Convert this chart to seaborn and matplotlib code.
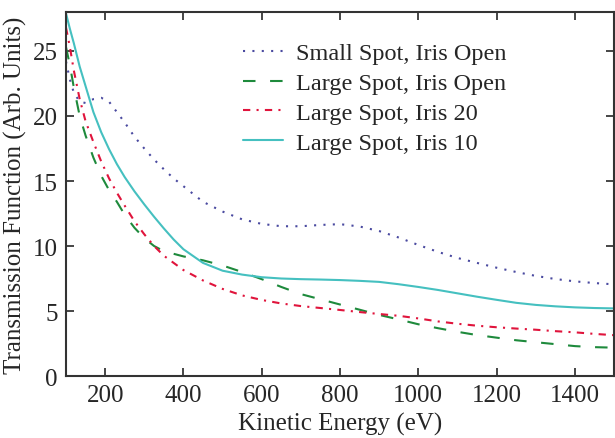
import numpy as np
import pandas as pd
import matplotlib
matplotlib.use("Agg")
import matplotlib.pyplot as plt
import seaborn as sns

# Kinetic energy grid (eV)
energy = [100, 110, 120, 135, 150, 170, 190, 210, 230, 250, 275, 300, 325, 350,
          375, 400, 450, 500, 550, 600, 650, 700, 750, 800, 850, 900, 950, 1000,
          1050, 1100, 1150, 1200, 1250, 1300, 1350, 1400, 1450, 1500]

small_open = [24.2, 22.8, 21.8, 21.1, 21.0, 21.3, 21.4, 21.1, 20.3, 19.5, 18.4, 17.5,
              16.65, 15.9, 15.2, 14.6, 13.4, 12.65, 12.05, 11.7, 11.52, 11.52, 11.62,
              11.68, 11.5, 11.15, 10.65, 10.08, 9.55, 9.08, 8.7, 8.33, 8.0, 7.7, 7.46,
              7.28, 7.15, 7.05]

large_open = [25.3, 23.9, 22.2, 20.0, 18.5, 16.8, 15.4, 14.3, 13.4, 12.4, 11.4, 10.6,
              10.0, 9.6, 9.4, 9.2, 8.9, 8.5, 8.0, 7.45, 6.85, 6.3, 5.9, 5.5, 5.1, 4.7,
              4.35, 3.98, 3.68, 3.4, 3.15, 2.95, 2.75, 2.6, 2.45, 2.3, 2.22, 2.18]

large_iris20 = [26.8, 25.3, 23.5, 21.3, 19.6, 18.0, 16.5, 15.2, 14.1, 13.1, 11.9, 10.9,
                10.0, 9.25, 8.7, 8.15, 7.35, 6.7, 6.2, 5.85, 5.58, 5.38, 5.23, 5.08,
                4.92, 4.77, 4.63, 4.43, 4.2, 4.02, 3.87, 3.75, 3.65, 3.56, 3.45, 3.36,
                3.24, 3.14]

large_iris10 = [27.9, 26.7, 25.6, 23.8, 22.3, 20.3, 18.75, 17.45, 16.3, 15.3, 14.2,
                13.2, 12.25, 11.35, 10.5, 9.75, 8.7, 8.1, 7.8, 7.6, 7.5, 7.45, 7.42, 7.38,
                7.32, 7.24, 7.06, 6.85, 6.62, 6.36, 6.1, 5.86, 5.63, 5.47, 5.36, 5.28,
                5.23, 5.2]

labels = ["Small Spot, Iris Open", "Large Spot, Iris Open",
          "Large Spot, Iris 20", "Large Spot, Iris 10"]
colors = ["#4a4aa0", "#1e8a3c", "#e0143c", "#45c0c0"]
dash_patterns = [(1, 3.5), (6, 7), (3.5, 3, 1, 3), ""]

df = pd.concat([
    pd.DataFrame({"Kinetic Energy": energy, "Transmission": vals, "series": name})
    for name, vals in zip(labels, [small_open, large_open, large_iris20, large_iris10])
], ignore_index=True)

sns.set_style("ticks")
plt.rcParams["font.family"] = ["Liberation Serif", "DejaVu Serif"]

fig = plt.figure(figsize=(6.15, 4.39), dpi=100)
ax = fig.add_axes([0.1073, 0.1412, 0.8912, 0.8292])

sns.lineplot(data=df, x="Kinetic Energy", y="Transmission", hue="series",
             style="series", hue_order=labels, style_order=labels,
             palette=dict(zip(labels, colors)),
             dashes=dict(zip(labels, dash_patterns)),
             linewidth=1.5, ax=ax, legend=True, sort=False)

ax.set_xlim(100, 1500)
ax.set_ylim(0, 28)
ax.set_xticks([200, 400, 600, 800, 1000, 1200, 1400])
ax.set_yticks([0, 5, 10, 15, 20, 25])
ax.tick_params(direction="in", length=6, width=1.2, labelsize=18,
               top=True, right=True, pad=6)
for sp in ax.spines.values():
    sp.set_linewidth(1.5)
    sp.set_color("#333333")

ax.set_xlabel("Kinetic Energy (eV)", fontsize=18, labelpad=4)
ax.set_ylabel("Transmission Function (Arb. Units)", fontsize=18, labelpad=4)

handles, labs = ax.get_legend_handles_labels()
ax.legend(handles, labs, frameon=False, fontsize=17.5, loc="upper left",
          bbox_to_anchor=(0.30, 0.95), handlelength=1.65, handletextpad=0.55,
          labelspacing=0.32, borderpad=0)

fig.savefig("out.png", dpi=100)
